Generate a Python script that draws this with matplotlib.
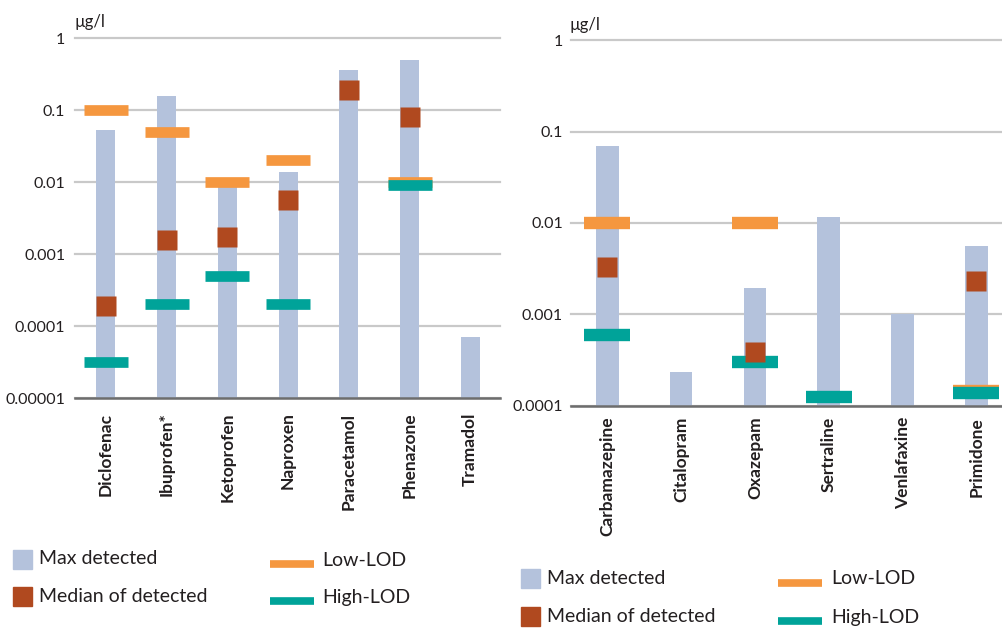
import matplotlib
matplotlib.use("Agg")
import matplotlib.pyplot as plt
from matplotlib.patches import Rectangle
from matplotlib.lines import Line2D
from matplotlib.ticker import FixedLocator, FixedFormatter, NullLocator

plt.rcParams['font.family'] = ['Lato', 'DejaVu Sans']

# ---- data: analgesics / anti-inflammatories (µg/l) ----
left_names = ["Diclofenac", "Ibuprofen*", "Ketoprofen", "Naproxen",
              "Paracetamol", "Phenazone", "Tramadol"]
left_max = [0.053, 0.156, 0.0086, 0.0138, 0.36, 0.49, 0.00007]
left_median = [0.00019, 0.00155, 0.0017, 0.0057, 0.19, 0.081, None]
left_low_lod = [0.1, 0.05, 0.01, 0.02, None, 0.01, None]
left_high_lod = [0.000032, 0.0002, 0.0005, 0.0002, None, 0.0092, None]
left_ticks = [0.00001, 0.0001, 0.001, 0.01, 0.1, 1]
left_ticklabels = ["0.00001", "0.0001", "0.001", "0.01", "0.1", "1"]

# ---- data: psychoactive drugs / anticonvulsants (µg/l) ----
right_names = ["Carbamazepine", "Citalopram", "Oxazepam", "Sertraline",
               "Venlafaxine", "Primidone"]
right_max = [0.070, 0.000234, 0.00195, 0.0115, 0.001, 0.0056]
right_median = [0.0033, None, 0.00039, None, None, 0.0023]
right_low_lod = [0.01, None, 0.01, None, None, 0.000145]
right_high_lod = [0.0006, None, 0.0003, 0.000125, None, 0.000137]
right_ticks = [0.0001, 0.001, 0.01, 0.1, 1]
right_ticklabels = ["0.0001", "0.001", "0.01", "0.1", "1"]

BAR = "#b4c2dc"
MEDIAN = "#b0491f"
LOW = "#f5973f"
HIGH = "#00a399"
GRID = "#c9c9c9"
TEXT = "#231f20"

W, H = 1003, 628
fig = plt.figure(figsize=(W / 100, H / 100), dpi=100)


def px_axes(x0, y0, x1, y1):
    """Axes from pixel box (top-left origin)."""
    return fig.add_axes([x0 / W, 1 - y1 / H, (x1 - x0) / W, (y1 - y0) / H])


def panel(ax, names, vmax, vmed, vlow, vhigh, ticks, ticklabels, ylo,
          xlim, bar_w, lod_w, lod_lw, xpad, ypad):
    ax.set_yscale("log")
    ax.set_ylim(ylo, 1)
    ax.set_xlim(*xlim)
    for t in ticks:
        ax.axhline(t, color=GRID, lw=1.6, zorder=0, clip_on=False)
    x = list(range(len(names)))
    ax.bar(x, [v - ylo for v in vmax], bottom=ylo, width=bar_w,
           color=BAR, zorder=1)
    for i in x:
        if vlow[i] is not None:
            ax.hlines(vlow[i], i - lod_w / 2, i + lod_w / 2, color=LOW,
                      lw=lod_lw, capstyle="butt", zorder=2)
        if vhigh[i] is not None:
            ax.hlines(vhigh[i], i - lod_w / 2, i + lod_w / 2, color=HIGH,
                      lw=lod_lw, capstyle="butt", zorder=3)
        if vmed[i] is not None:
            ax.plot(i, vmed[i], marker="s", ms=13.7, mfc=MEDIAN,
                    mec="none", ls="none", zorder=4)
    for s in ["top", "right", "left"]:
        ax.spines[s].set_visible(False)
    ax.spines["bottom"].set_color("#6d6d6d")
    ax.spines["bottom"].set_linewidth(1.8)
    ax.spines["bottom"].set_zorder(5)
    ax.yaxis.set_major_locator(FixedLocator(ticks))
    ax.yaxis.set_major_formatter(FixedFormatter(ticklabels))
    ax.yaxis.set_minor_locator(NullLocator())
    ax.tick_params(axis="y", length=0, pad=ypad, labelsize=11.5,
                   labelcolor=TEXT)
    ax.set_xticks(x)
    ax.set_xticklabels(names, rotation=90, va="top", ha="center",
                       fontsize=12.5, fontweight="bold", color=TEXT)
    ax.tick_params(axis="x", length=0, pad=xpad)
    ax.set_facecolor("none")


axL = px_axes(75, 38, 500, 398)
panel(axL, left_names, left_max, left_median, left_low_lod, left_high_lod,
      left_ticks, left_ticklabels, 1e-5, (-0.51, 6.49), 0.313, 0.725, 7.7,
      10.5, 7)

axR = px_axes(570.7, 40.3, 1003, 405.7)
panel(axR, right_names, right_max, right_median, right_low_lod,
      right_high_lod, right_ticks, right_ticklabels, 1e-4, (-0.496, 5.36),
      0.307, 0.623, 8.9, 8, 5.5)

fig.text(75 / W, 1 - 22 / H, "µg/l", fontsize=12, color=TEXT, va="center")
fig.text(570 / W, 1 - 25 / H, "µg/l", fontsize=12, color=TEXT, va="center")


def legend(x_sq, y1, y2, x_line, x_text2, dy_line):
    fs = 14
    for (yc, col, lab) in [(y1, BAR, "Max detected"),
                           (y2, MEDIAN, "Median of detected")]:
        fig.add_artist(Rectangle((x_sq / W, 1 - (yc + 9.5) / H), 19 / W,
                                 19 / H, transform=fig.transFigure,
                                 color=col))
        fig.text((x_sq + 26) / W, 1 - yc / H, lab, fontsize=fs, color=TEXT,
                 va="center")
    for (yc, col, lab) in [(y1 + dy_line, LOW, "Low-LOD"),
                           (y2 + dy_line, HIGH, "High-LOD")]:
        fig.add_artist(Line2D([x_line / W, (x_line + 44) / W],
                              [1 - yc / H, 1 - yc / H],
                              transform=fig.transFigure, color=col, lw=5.5,
                              solid_capstyle="butt"))
        fig.text(x_text2 / W, 1 - (yc - 4) / H, lab, fontsize=fs,
                 color=TEXT, va="center")


legend(12.7, 559, 596, 270, 322, 5)
legend(521, 578, 616, 778, 831, 5)

fig.savefig("out.png", dpi=100)
